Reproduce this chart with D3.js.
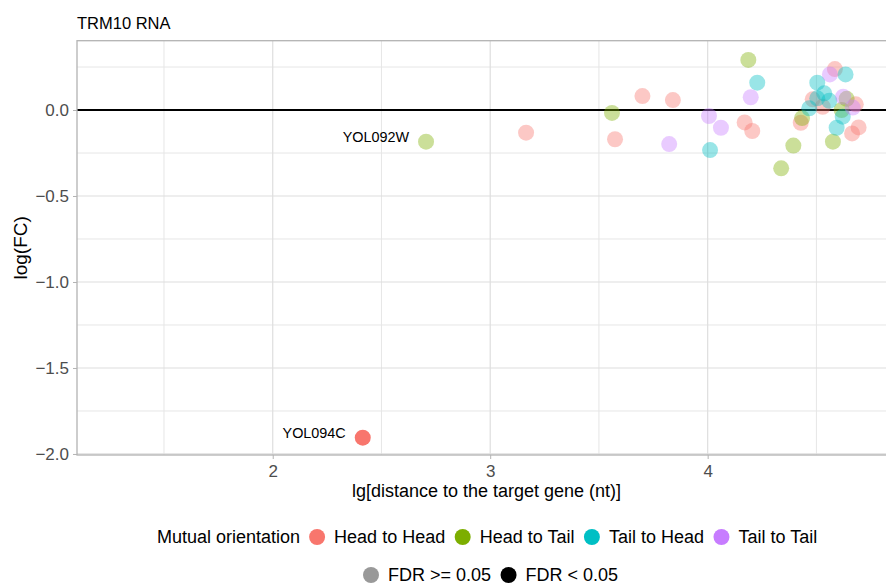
<!DOCTYPE html>
<html>
<head>
<meta charset="utf-8">
<script src="https://cdn.jsdelivr.net/npm/d3@7.9.0/dist/d3.min.js"></script>
<style>
  body { margin: 0; background: #fff; }
  svg { display: block; font-family: "Liberation Sans", Arial, sans-serif; }
</style>
</head>
<body>
<div id="chart"></div>
<script>
// ----------------------
// Data
// ----------------------
const orientations = ['Head to Head', 'Head to Tail', 'Tail to Head', 'Tail to Tail'];
const orientColors = ['#F8766D', '#7CAE00', '#00BFC4', '#C77CFF'];
const fdrLabels = ['FDR >= 0.05', 'FDR < 0.05'];

// lg distance, log(FC), orientation index, significant?, gene label
const lgDist = [
  3.165, 3.574, 3.700, 3.840, 4.170, 4.205, 4.428, 4.483, 4.529, 4.585, 4.681, 4.664, 4.694, 2.414,
  2.705, 3.560, 4.187, 4.338, 4.394, 4.434, 4.616, 4.576, 4.639,
  4.011, 4.228, 4.467, 4.504, 4.536, 4.504, 4.559, 4.634, 4.621, 4.593,
  3.823, 4.006, 4.061, 4.198, 4.562, 4.623, 4.667
];
const logFC = [
  -0.132, -0.170, 0.081, 0.058, -0.072, -0.122, -0.074, 0.062, 0.019, 0.238, 0.033, -0.136, -0.101, -1.905,
  -0.184, -0.017, 0.291, -0.339, -0.207, -0.047, 0.000, -0.184, 0.065,
  -0.233, 0.159, 0.010, 0.159, 0.097, 0.068, 0.054, 0.207, -0.039, -0.103,
  -0.198, -0.035, -0.103, 0.074, 0.207, 0.077, 0.014
];
const orient = [
  0, 0, 0, 0, 0, 0, 0, 0, 0, 0, 0, 0, 0, 0,
  1, 1, 1, 1, 1, 1, 1, 1, 1,
  2, 2, 2, 2, 2, 2, 2, 2, 2, 2,
  3, 3, 3, 3, 3, 3, 3
];
const significant = lgDist.map((d, i) => i === 13);
const geneLabel = lgDist.map((d, i) => i === 13 ? 'YOL094C' : i === 14 ? 'YOL092W' : '');

const xTicks = [2, 3, 4];
const xMinor = [1.5, 2.5, 3.5, 4.5];
const yTicks = [0, -0.5, -1, -1.5, -2];
const yMinor = [0.25, -0.25, -0.75, -1.25, -1.75];

const points = lgDist.map((d, i) => ({
  x: d, y: logFC[i], o: orient[i], sig: significant[i], label: geneLabel[i]
}));

// ----------------------
// Layout
// ----------------------
const width = 886;
const height = 585;
const panel = { left: 77, right: 896, top: 40.7, bottom: 455 };

const svg = d3.select('#chart')
  .append('svg')
  .attr('width', width)
  .attr('height', height);

const xScale = d3.scaleLinear()
  .domain([1.100, 4.866])
  .range([panel.left, panel.right]);

const yScale = d3.scaleLinear()
  .domain([-2.006, 0.403])
  .range([panel.bottom, panel.top]);

const color = d3.scaleOrdinal().domain(d3.range(4)).range(orientColors);

// Gridlines
const grid = svg.append('g').attr('class', 'grid');
grid.selectAll('.xminor').data(xMinor).join('line')
  .attr('x1', d => xScale(d)).attr('x2', d => xScale(d))
  .attr('y1', panel.top).attr('y2', panel.bottom)
  .attr('stroke', '#e6e6e6').attr('stroke-width', 1);
grid.selectAll('.yminor').data(yMinor).join('line')
  .attr('y1', d => yScale(d)).attr('y2', d => yScale(d))
  .attr('x1', panel.left).attr('x2', panel.right)
  .attr('stroke', '#e6e6e6').attr('stroke-width', 1);
grid.selectAll('.xmajor').data(xTicks).join('line')
  .attr('x1', d => xScale(d)).attr('x2', d => xScale(d))
  .attr('y1', panel.top).attr('y2', panel.bottom)
  .attr('stroke', '#dedede').attr('stroke-width', 1.2);
grid.selectAll('.ymajor').data(yTicks).join('line')
  .attr('y1', d => yScale(d)).attr('y2', d => yScale(d))
  .attr('x1', panel.left).attr('x2', panel.right)
  .attr('stroke', '#dedede').attr('stroke-width', 1.2);

// zero line
svg.append('line')
  .attr('x1', panel.left).attr('x2', panel.right)
  .attr('y1', yScale(0)).attr('y2', yScale(0))
  .attr('stroke', '#000').attr('stroke-width', 1.2)
  .attr('shape-rendering', 'crispEdges');

// Axes
const xAxis = svg.append('g')
  .attr('transform', `translate(0,${panel.bottom})`)
  .call(d3.axisBottom(xScale).tickValues(xTicks).tickSize(4).tickPadding(6).tickFormat(d3.format('d')));
const yAxis = svg.append('g')
  .attr('transform', `translate(${panel.left},0)`)
  .call(d3.axisLeft(yScale).tickValues(yTicks).tickSize(4).tickPadding(4)
    .tickFormat(d => d3.format('.1f')(d).replace('-', '\u2212')));

[xAxis, yAxis].forEach(ax => {
  ax.select('.domain').remove();
  ax.selectAll('line').attr('stroke', '#b3b3b3');
  ax.selectAll('text')
    .attr('fill', '#4d4d4d')
    .style('font-size', '17px')
    .style('font-family', '"Liberation Sans", Arial, sans-serif');
});
xAxis.selectAll('text').attr('dy', '0.71em');

// Panel border
svg.append('rect')
  .attr('x', panel.left).attr('y', panel.top)
  .attr('width', panel.right - panel.left)
  .attr('height', panel.bottom - panel.top)
  .attr('fill', 'none')
  .attr('stroke', '#b3b3b3')
  .attr('stroke-width', 1.3);

// Points
svg.append('g').attr('class', 'dots')
  .selectAll('circle')
  .data(points)
  .join('circle')
  .attr('cx', d => xScale(d.x))
  .attr('cy', d => yScale(d.y))
  .attr('r', 8)
  .attr('fill', d => color(d.o))
  .attr('fill-opacity', d => d.sig ? 1 : 0.4);

// Gene labels
svg.append('g').attr('class', 'labels')
  .selectAll('text')
  .data(points.filter(d => d.label))
  .join('text')
  .attr('x', d => xScale(d.x) - 17)
  .attr('y', d => yScale(d.y) + 0.5)
  .attr('text-anchor', 'end')
  .attr('font-size', '14.4px')
  .attr('fill', '#000')
  .text(d => d.label);

// Titles
svg.append('text')
  .attr('x', panel.left)
  .attr('y', 29)
  .attr('font-size', '16.5px')
  .attr('fill', '#000')
  .text('TRM10 RNA');

svg.append('text')
  .attr('x', (panel.left + panel.right) / 2)
  .attr('y', 497)
  .attr('text-anchor', 'middle')
  .attr('font-size', '18px')
  .attr('fill', '#000')
  .text('lg[distance to the target gene (nt)]');

svg.append('text')
  .attr('transform', `translate(27,${(panel.top + panel.bottom) / 2}) rotate(-90)`)
  .attr('text-anchor', 'middle')
  .attr('font-size', '19px')
  .attr('fill', '#000')
  .text('log(FC)');

// ----------------------
// Legends
// ----------------------
function legendRow(startX, cy, title, labels, fills) {
  const g = svg.append('g');
  let x = startX;
  if (title) {
    const t = g.append('text')
      .attr('x', x).attr('y', cy).attr('dy', '0.35em')
      .attr('font-size', '18px').attr('fill', '#000')
      .text(title);
    x += t.node().getComputedTextLength() + 17;
  } else {
    x += 8;
  }
  labels.forEach((lab, i) => {
    g.append('circle')
      .attr('cx', x).attr('cy', cy).attr('r', 8)
      .attr('fill', fills[i]);
    const t = g.append('text')
      .attr('x', x + 17).attr('y', cy).attr('dy', '0.35em')
      .attr('font-size', '18px').attr('fill', '#000')
      .text(lab);
    x += 17 + t.node().getComputedTextLength() + 17.5;
  });
}

legendRow(157, 537, 'Mutual orientation', orientations, orientColors);
legendRow(363, 575, null, fdrLabels, ['#999999', '#000000']);
</script>
</body>
</html>
